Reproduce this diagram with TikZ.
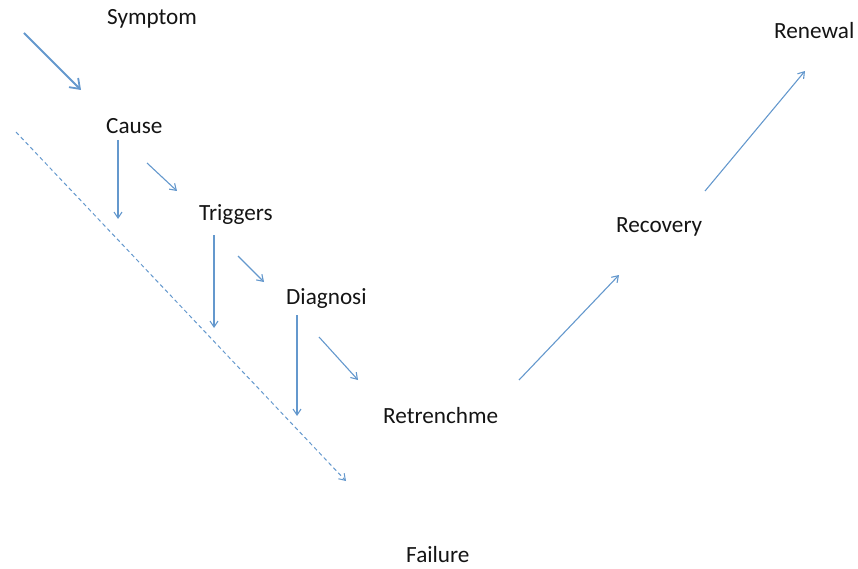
\documentclass[tikz,border=0pt]{standalone}
\usepackage{fontspec}
\setmainfont{Carlito}
\usetikzlibrary{arrows.meta}
\definecolor{arrowblue}{RGB}{100,152,205}
\definecolor{txt}{RGB}{20,20,20}
\begin{document}
\begin{tikzpicture}[x=1pt,y=-1pt,
  lbl/.style={anchor=west,inner sep=0pt,text=txt,font=\fontsize{23.2}{27}\selectfont},
  arr/.style={draw=arrowblue,line width=1.1pt,-{Straight Barb[length=6pt,width=8pt]}},
  bigarr/.style={draw=arrowblue,line width=1.8pt,-{Straight Barb[length=9pt,width=13pt]}},
  dashedarr/.style={draw=arrowblue,line width=1pt,dash pattern=on 4pt off 3pt,-{Straight Barb[length=6pt,width=8pt]}}]
\useasboundingbox (0,0) rectangle (858,569);
\node[lbl] (symptom) at (107,19) {Symptom};
\node[lbl] (cause) at (106,126) {Cause};
\node[lbl] (triggers) at (199,215) {Triggers};
\node[lbl] (diagnosi) at (286,299) {Diagnosi};
\node[lbl] (retrench) at (383,416) {Retrenchme};
\node[lbl] (failure) at (406,555) {Failure};
\node[lbl] (recovery) at (616,227) {Recovery};
\node[lbl] (renewal) at (774,31) {Renewal};
% coordinates
\coordinate (a1s) at (24,33);   \coordinate (a1e) at (81,90);
\coordinate (c1s) at (118,140); \coordinate (c1e) at (118,219);
\coordinate (c2s) at (147,163); \coordinate (c2e) at (177,191);
\coordinate (t1s) at (214,235); \coordinate (t1e) at (214,328);
\coordinate (t2s) at (238,256); \coordinate (t2e) at (264,282);
\coordinate (d1s) at (297,315); \coordinate (d1e) at (297,416);
\coordinate (d2s) at (319,337); \coordinate (d2e) at (358,380);
\coordinate (fs) at (16,132);   \coordinate (fe) at (346,481);
\coordinate (r1s) at (519,380); \coordinate (r1e) at (619,275);
\coordinate (r2s) at (705,191); \coordinate (r2e) at (805,71);
\draw[bigarr] (a1s) -- (a1e);
\draw[arr] (c1s) -- (c1e);
\draw[arr] (c2s) -- (c2e);
\draw[arr] (t1s) -- (t1e);
\draw[arr] (t2s) -- (t2e);
\draw[arr] (d1s) -- (d1e);
\draw[arr] (d2s) -- (d2e);
\draw[dashedarr] (fs) -- (fe);
\draw[arr] (r1s) -- (r1e);
\draw[arr] (r2s) -- (r2e);
\end{tikzpicture}
\end{document}
